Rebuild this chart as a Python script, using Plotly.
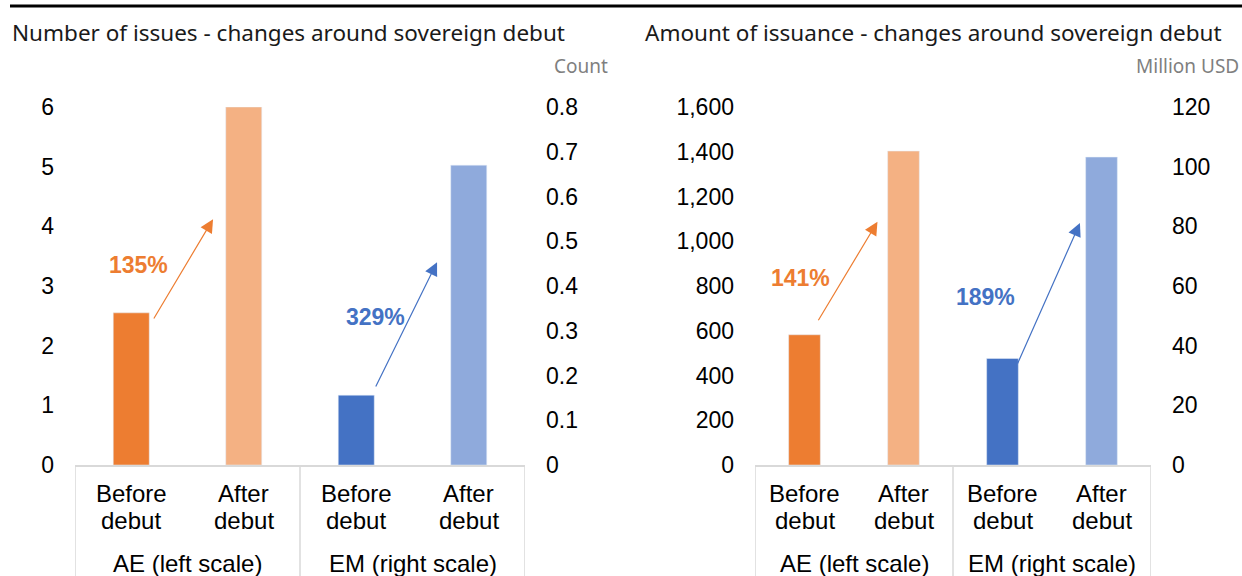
import plotly.graph_objects as go

# Données
cat_line1 = ["Before", "After", "Before", "After"]
cat_line2 = ["debut", "debut", "debut", "debut"]
groups = ["AE (left scale)", "EM (right scale)"]

issues_ae = [2.55, 6.0]        # échelle gauche
issues_em = [0.156, 0.67]      # échelle droite
amount_ae = [582, 1403]        # échelle gauche
amount_em = [35.7, 103.2]      # échelle droite

issues_pct = ["135%", "329%"]
amount_pct = ["141%", "189%"]

ORANGE = "#ED7D31"
ORANGE_L = "#F4B183"
BLUE = "#4472C4"
BLUE_L = "#8FAADC"
GRID = "#D9D9D9"

W, H = 1242, 576
Y0, Y1 = 465, 107  # pixels du zéro et du haut des axes


def py(pix):
    return (H - pix) / H


def px(pix):
    return pix / W


tick_font = dict(family="Liberation Sans, Arial", size=23, color="black")
cat_font = dict(family="Liberation Sans, Arial", size=24, color="black")

fig = go.Figure()

# Panneau gauche
fig.add_trace(go.Bar(x=[0, 1], y=issues_ae, marker_color=[ORANGE, ORANGE_L], width=0.32,
                     xaxis="x", yaxis="y", showlegend=False))
fig.add_trace(go.Bar(x=[2, 3], y=issues_em, marker_color=[BLUE, BLUE_L], width=0.32,
                     xaxis="x", yaxis="y2", showlegend=False))
# Panneau droit
fig.add_trace(go.Bar(x=[0, 1], y=amount_ae, marker_color=[ORANGE, ORANGE_L], width=0.32,
                     xaxis="x2", yaxis="y3", showlegend=False))
fig.add_trace(go.Bar(x=[2, 3], y=amount_em, marker_color=[BLUE, BLUE_L], width=0.32,
                     xaxis="x2", yaxis="y4", showlegend=False))

xcommon = dict(range=[-0.5, 3.5], showticklabels=False, showgrid=False,
               zeroline=False, showline=True, linecolor=GRID, linewidth=1.5, ticks="",
               fixedrange=True, automargin=False)
ycommon = dict(showgrid=False, zeroline=False, showline=False, ticks="", tickfont=tick_font,
               ticklabelstandoff=20, domain=[py(Y0), py(Y1)], automargin=False)

fig.update_layout(
    width=W, height=H,
    margin=dict(l=0, r=0, t=0, b=0, pad=0),
    paper_bgcolor="white", plot_bgcolor="white",
    barmode="overlay",
    xaxis=dict(domain=[px(75), px(525)], anchor="y", **xcommon),
    xaxis2=dict(domain=[px(755), px(1151)], anchor="y3", **xcommon),
    yaxis=dict(range=[0, 6], dtick=1, anchor="x", **ycommon),
    yaxis2=dict(range=[0, 0.8], dtick=0.1, anchor="x", overlaying="y", side="right", **ycommon),
    yaxis3=dict(range=[0, 1600], dtick=200, tickformat=",", anchor="x2", **ycommon),
    yaxis4=dict(range=[0, 120], dtick=20, anchor="x2", overlaying="y3", side="right", **ycommon),
)

shapes = [dict(type="line", xref="paper", yref="paper", x0=px(10), x1=1, y0=py(6), y1=py(6),
               line=dict(color="black", width=3))]
for xr in ["x", "x2"]:
    for xv in [-0.5, 1.5, 3.5]:
        shapes.append(dict(type="line", xref=xr, yref="paper", x0=xv, x1=xv, y0=py(Y0), y1=0,
                           line=dict(color=GRID, width=1.5)))
fig.update_layout(shapes=shapes)

ann = []
title_font = dict(family="Noto Sans, Open Sans", size=22.5, color="#1a1a1a")
ann.append(dict(text="Number of issues - changes around sovereign debut", xref="paper", yref="paper",
                x=px(10), y=py(33), xanchor="left", yanchor="middle", showarrow=False, font=title_font))
ann.append(dict(text="Amount of issuance - changes around sovereign debut", xref="paper", yref="paper",
                x=px(643), y=py(33), xanchor="left", yanchor="middle", showarrow=False, font=title_font))
unit_font = dict(family="Noto Sans, Open Sans", size=19, color="#7F7F7F")
ann.append(dict(text="Count", xref="paper", yref="paper", x=px(610), y=py(66), xanchor="right",
                yanchor="middle", showarrow=False, font=unit_font))
ann.append(dict(text="Million USD", xref="paper", yref="paper", x=px(1241), y=py(66), xanchor="right",
                yanchor="middle", showarrow=False, font=unit_font))

# Étiquettes de catégories (deux niveaux)
for xr in ["x", "x2"]:
    for i in range(4):
        ann.append(dict(text=cat_line1[i], xref=xr, yref="paper", x=i, y=py(493), yanchor="middle",
                        showarrow=False, font=cat_font))
        ann.append(dict(text=cat_line2[i], xref=xr, yref="paper", x=i, y=py(520), yanchor="middle",
                        showarrow=False, font=cat_font))
    for i, g in enumerate(groups):
        ann.append(dict(text=g, xref=xr, yref="paper", x=0.5 + 2 * i, y=py(563), yanchor="middle",
                        showarrow=False, font=cat_font))

# Flèches et pourcentages
pct_font = dict(family="Liberation Sans, Arial", size=23)
arrows = [
    # (xref, yref, queue x, queue y, pointe x, pointe y, couleur)
    ("x", "y", 0.193, 2.43, 0.727, 4.12, ORANGE),
    ("x", "y2", 2.167, 0.172, 2.718, 0.453, BLUE),
    ("x2", "y3", 0.131, 640, 0.737, 1087, ORANGE),
    ("x2", "y4", 2.146, 33.5, 2.782, 81.1, BLUE),
]
for xr, yr, tx, ty, hx, hy, c in arrows:
    ann.append(dict(xref=xr, yref=yr, x=hx, y=hy, axref=xr, ayref=yr, ax=tx, ay=ty, text="",
                    showarrow=True, arrowhead=2, arrowsize=2.2, arrowwidth=1.2, arrowcolor=c))

labels = [
    ("x", "y", 0.06, 3.36, issues_pct[0], ORANGE),
    ("x", "y2", 2.167, 0.331, issues_pct[1], BLUE),
    ("x2", "y3", -0.04, 838, amount_pct[0], ORANGE),
    ("x2", "y4", 1.83, 56.3, amount_pct[1], BLUE),
]
for xr, yr, xv, yv, t, c in labels:
    ann.append(dict(xref=xr, yref=yr, x=xv, y=yv, text="<b>" + t + "</b>", showarrow=False,
                    font=dict(color=c, **pct_font)))

fig.update_layout(annotations=ann)

# marge par défaut du <body> supprimée pour que la figure occupe toute la fenêtre
fig.write_html("out.html", config={"displayModeBar": False},
               post_script="document.body.style.margin='0';")
